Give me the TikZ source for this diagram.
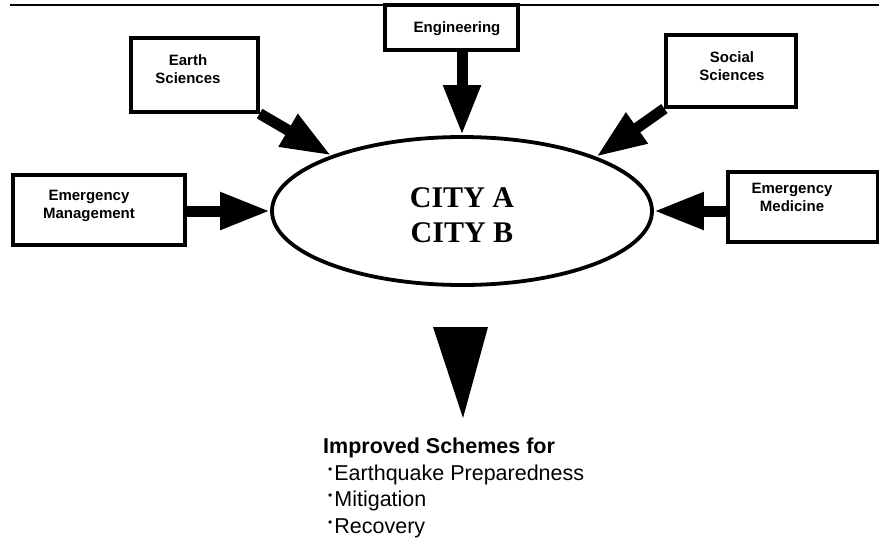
\documentclass[tikz,border=0pt]{standalone}
\usepackage{fontspec}
\setmainfont{Liberation Sans}
\newfontfamily\cityfont{Liberation Serif}
\usetikzlibrary{arrows.meta,shapes.geometric}
\newcommand{\itemdot}{\hspace*{5pt}\raisebox{7pt}{\fontsize{12}{12}\selectfont\textbullet}\hspace{2pt}}
\begin{document}
\begin{tikzpicture}[x=1pt,y=-1pt,
  box/.style={draw,line width=3.2pt,inner sep=0pt},
  boxlabel/.style={font=\fontsize{15}{18}\selectfont\bfseries,align=center,inner sep=0pt,anchor=base},
  feed/.style={line width=11pt,-{Triangle[length=50pt,width=35pt]}},
]
\useasboundingbox (0,0) rectangle (879,542);

% rule along the top edge
\draw[line width=2.8pt] (10,5) -- (879,5);

% central ellipse (multi-line labels are anchored on the baseline of their last line)
\node[draw,ellipse,line width=3.8pt,minimum width=380pt,minimum height=148pt,inner sep=0pt] (city) at (462,211) {};
\node[font=\cityfont\fontsize{30}{35}\selectfont\bfseries,align=center,inner sep=0pt,anchor=base] (citynames) at (462,242) {CITY A\\CITY B};

% discipline boxes
\node[box,minimum width=133pt,minimum height=45pt] (eng) at (451.5,27.5) {};
\node[boxlabel] (englbl) at (457,32) {Engineering};

\node[box,minimum width=127pt,minimum height=74pt] (esci) at (194.5,75) {};
\node[boxlabel] (escilbl) at (188,83) {Earth\\Sciences};

\node[box,minimum width=130pt,minimum height=72pt] (soc) at (731,71) {};
\node[boxlabel] (soclbl) at (732,80) {Social\\Sciences};

\node[box,minimum width=172pt,minimum height=70pt] (emm) at (99,210) {};
\node[boxlabel] (emmlbl) at (89,218) {Emergency\\Management};

\node[box,minimum width=150pt,minimum height=70pt] (emed) at (803,207) {};
\node[boxlabel] (emedlbl) at (792,211) {Emergency\\Medicine};

% inputs into the ellipse
\draw[feed] (eng.south -| city.north) -- (city.north);
\draw[feed] (esci.south east) -- (city.157);
\draw[feed] (soc.south west) -- (city.22);
\draw[feed] (emm.east |- city.west) -- (city.west);
\draw[feed] (emed.west |- city.east) -- (city.east);

% outcome pointer
\fill (433,327) -- (488,327) -- (463,418) -- cycle;

% outcomes
\node[anchor=base west,inner sep=0pt,align=left,font=\fontsize{21.5}{26.5}\selectfont] (outcome) at (323,533)
 {\textbf{Improved Schemes for}\\
  \itemdot Earthquake Preparedness\\
  \itemdot Mitigation\\
  \itemdot Recovery};
\end{tikzpicture}
\end{document}
